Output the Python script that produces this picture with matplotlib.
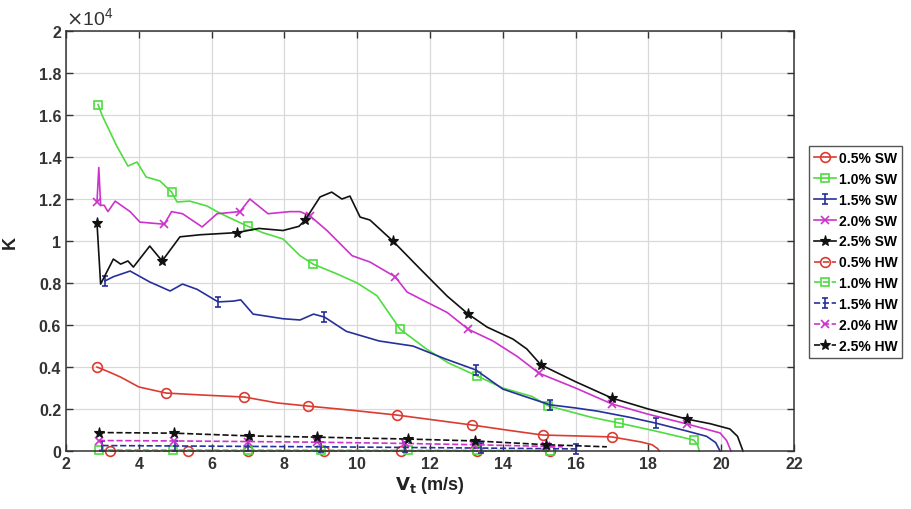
import matplotlib.pyplot as plt
import numpy as np
from matplotlib.path import Path
from matplotlib.lines import Line2D

# K (x1e4) versus tip speed, solid = SW, dashed = HW
sw_labels = ['0.5% SW', '1.0% SW', '1.5% SW', '2.0% SW', '2.5% SW']
hw_labels = ['0.5% HW', '1.0% HW', '1.5% HW', '2.0% HW', '2.5% HW']

red_sw_x = [2.85, 3.2, 3.5, 4.0, 4.75, 5.7, 6.9, 7.8, 8.65, 9.8, 11.1, 12.1, 13.15, 14.1, 15.1, 16.0, 17.0, 17.8, 18.1, 18.25, 18.3]
red_sw_y = [0.40, 0.375, 0.352, 0.305, 0.276, 0.267, 0.257, 0.229, 0.214, 0.195, 0.171, 0.148, 0.124, 0.10, 0.076, 0.072, 0.067, 0.043, 0.03, 0.012, 0.0]
red_sw_mk = [2.85, 4.75, 6.9, 8.65, 11.1, 13.15, 15.1, 17.0]

green_sw_x = [2.88, 3.0, 3.4, 3.7, 3.95, 4.2, 4.58, 4.9, 5.05, 5.4, 5.87, 6.15, 6.45, 7.0, 7.4, 7.96, 8.43, 8.79, 9.45, 10.0, 10.54, 11.18, 11.9, 12.5, 13.3, 14.0, 14.8, 15.25, 16.4, 17.2, 18.2, 19.25, 19.35, 19.4]
green_sw_y = [1.65, 1.595, 1.45, 1.357, 1.376, 1.305, 1.286, 1.233, 1.186, 1.19, 1.167, 1.14, 1.114, 1.07, 1.04, 1.01, 0.93, 0.89, 0.843, 0.80, 0.74, 0.58, 0.486, 0.42, 0.357, 0.30, 0.26, 0.215, 0.162, 0.133, 0.095, 0.052, 0.03, 0.0]
green_sw_mk = [2.88, 4.9, 7.0, 8.79, 11.18, 13.3, 15.25, 17.2, 19.25]

blue_sw_x = [3.07, 3.3, 3.76, 4.3, 4.86, 5.2, 5.6, 6.18, 6.6, 6.8, 7.14, 7.96, 8.43, 8.8, 9.1, 9.7, 10.6, 11.53, 12.4, 13.26, 14.0, 14.6, 15.3, 16.0, 16.6, 17.5, 18.2, 19.06, 19.6, 19.85, 19.97]
blue_sw_y = [0.81, 0.83, 0.857, 0.805, 0.762, 0.795, 0.77, 0.71, 0.714, 0.72, 0.652, 0.63, 0.624, 0.652, 0.638, 0.57, 0.524, 0.50, 0.44, 0.386, 0.295, 0.26, 0.22, 0.205, 0.19, 0.16, 0.133, 0.095, 0.07, 0.04, 0.0]
blue_sw_mk = [3.07, 6.18, 9.1, 13.26, 15.3, 18.2]

mag_sw_x = [2.85, 2.9, 2.95, 3.05, 3.15, 3.35, 3.76, 4.03, 4.7, 4.9, 5.2, 5.74, 6.15, 6.78, 7.05, 7.55, 8.15, 8.43, 8.7, 9.17, 9.86, 10.35, 11.04, 11.37, 11.9, 12.47, 13.05, 13.73, 14.4, 15.0, 16.0, 17.0, 18.0, 19.06, 19.97, 20.15, 20.27]
mag_sw_y = [1.186, 1.35, 1.17, 1.17, 1.14, 1.19, 1.14, 1.09, 1.08, 1.14, 1.13, 1.067, 1.13, 1.14, 1.2, 1.13, 1.14, 1.14, 1.12, 1.05, 0.93, 0.90, 0.83, 0.757, 0.71, 0.66, 0.58, 0.524, 0.45, 0.37, 0.30, 0.224, 0.175, 0.129, 0.086, 0.05, 0.0]
mag_sw_mk = [2.85, 4.7, 6.78, 8.7, 11.04, 13.05, 15.0, 17.0, 19.06]

black_sw_x = [2.85, 2.95, 3.3, 3.5, 3.7, 3.85, 4.3, 4.64, 5.13, 5.7, 6.7, 7.3, 7.96, 8.4, 8.57, 8.98, 9.3, 9.58, 9.8, 10.08, 10.35, 10.98, 11.73, 12.47, 13.05, 13.57, 14.28, 14.66, 15.05, 16.0, 17.0, 18.0, 19.06, 19.7, 20.24, 20.45, 20.6]
black_sw_y = [1.086, 0.795, 0.914, 0.89, 0.905, 0.876, 0.976, 0.905, 1.02, 1.03, 1.04, 1.06, 1.05, 1.07, 1.10, 1.21, 1.233, 1.2, 1.214, 1.114, 1.10, 1.0, 0.867, 0.738, 0.652, 0.59, 0.533, 0.486, 0.41, 0.33, 0.252, 0.2, 0.152, 0.13, 0.105, 0.07, 0.0]
black_sw_mk = [2.85, 4.64, 6.7, 8.57, 10.98, 13.05, 15.05, 17.0, 19.06]

red_hw_x = [3.2, 5.35, 7.0, 9.1, 11.2, 13.3, 15.3]
red_hw_y = [0.0, 0.0, 0.0, 0.0, 0.0, 0.0, 0.0]
green_hw_x = [2.9, 4.95, 7.0, 9.0, 11.4, 13.3, 15.3]
green_hw_y = [0.005, 0.005, 0.004, 0.004, 0.003, 0.003, 0.002]
blue_hw_x = [3.0, 5.0, 7.0, 9.0, 11.3, 13.4, 16.0]
blue_hw_y = [0.026, 0.024, 0.022, 0.02, 0.017, 0.014, 0.01]
mag_hw_x = [2.9, 4.97, 7.0, 8.9, 11.3, 13.2, 15.2, 15.65]
mag_hw_y = [0.05, 0.048, 0.045, 0.042, 0.036, 0.03, 0.022, 0.02]
black_hw_x = [2.9, 4.97, 7.03, 8.9, 11.4, 13.24, 15.2, 16.86]
black_hw_y = [0.088, 0.085, 0.072, 0.066, 0.057, 0.048, 0.03, 0.02]

# colours per concentration
c_red = '#dc3b32'
c_green = '#4fdc3f'
c_blue = '#26309a'
c_mag = '#cc33cc'
c_black = '#111111'

# I-beam marker (errorbar look)
ibeam = Path([(-0.6, 1), (0.6, 1), (0, 1), (0, -1), (-0.6, -1), (0.6, -1)],
             [Path.MOVETO, Path.LINETO, Path.MOVETO, Path.LINETO, Path.MOVETO, Path.LINETO])

styles = [
    dict(color=c_red, marker='o', mfc='none', ms=7, mew=1.2),
    dict(color=c_green, marker='s', mfc='none', ms=6, mew=1.2),
    dict(color=c_blue, marker=ibeam, ms=7, mew=1.2),
    dict(color=c_mag, marker='x', ms=6, mew=1.2),
    dict(color=c_black, marker='*', ms=8, mew=0.8),
]

sw = [(red_sw_x, red_sw_y, red_sw_mk), (green_sw_x, green_sw_y, green_sw_mk),
      (blue_sw_x, blue_sw_y, blue_sw_mk), (mag_sw_x, mag_sw_y, mag_sw_mk),
      (black_sw_x, black_sw_y, black_sw_mk)]
hw = [(red_hw_x, red_hw_y), (green_hw_x, green_hw_y), (blue_hw_x, blue_hw_y),
      (mag_hw_x, mag_hw_y), (black_hw_x, black_hw_y)]

plt.rcParams['font.family'] = 'Liberation Sans'
fig = plt.figure(figsize=(9.11, 5.10), dpi=100)
ax = fig.add_axes([0.0725, 0.1137, 0.799, 0.8235])

handles = []
for (x, y, mk), st, lab in zip(sw, styles, sw_labels):
    idx = [x.index(v) for v in mk]
    ax.plot(x, y, lw=1.2, markevery=idx, clip_on=False, **st)
    handles.append(Line2D([], [], lw=1.2, label=lab, **st))
for (x, y), st, lab in zip(hw, styles, hw_labels):
    idx = list(range(len(x) - 1)) if len(x) > 7 else list(range(len(x)))
    ax.plot(x, y, lw=1.2, ls='--', markevery=idx, clip_on=False, **st)
    handles.append(Line2D([], [], lw=1.2, ls='--', label=lab, **st))

ax.set_xlim(2, 22)
ax.set_ylim(0, 2)
ax.set_xticks(np.arange(2, 23, 2))
ax.set_yticks(np.arange(0, 2.01, 0.2))
ax.set_yticklabels(['0', '0.2', '0.4', '0.6', '0.8', '1', '1.2', '1.4', '1.6', '1.8', '2'])
ax.tick_params(direction='in', length=5, labelsize=11.5, top=True, right=True, width=1,
               colors='#333333')
for lbl in ax.get_xticklabels() + ax.get_yticklabels():
    lbl.set_fontweight('bold')
ax.grid(True, color='#d9d9d9', lw=0.9)
ax.set_axisbelow(True)
for s in ax.spines.values():
    s.set_linewidth(1.1)
    s.set_color('#333333')

ax.text(0.0, 1.008, r'$\times\mathregular{10^4}$', transform=ax.transAxes, fontsize=14,
        va='bottom', ha='left', color='#333333')
ax.set_xlabel(r'$\mathbf{V_t}$ (m/s)', fontsize=13, fontweight='bold', labelpad=2, color='#222222')
ax.set_ylabel('K', fontsize=13, fontweight='bold', labelpad=14, color='#222222')

ax.legend(handles=handles, loc='center left', bbox_to_anchor=(1.015, 0.474),
          prop={'weight': 'bold', 'size': 10}, labelspacing=0.5,
          handlelength=1.6, handletextpad=0.2, borderpad=0.35, borderaxespad=0.3,
          frameon=True, fancybox=False, edgecolor='#555555', framealpha=1)

plt.savefig('out.png', dpi=100)
